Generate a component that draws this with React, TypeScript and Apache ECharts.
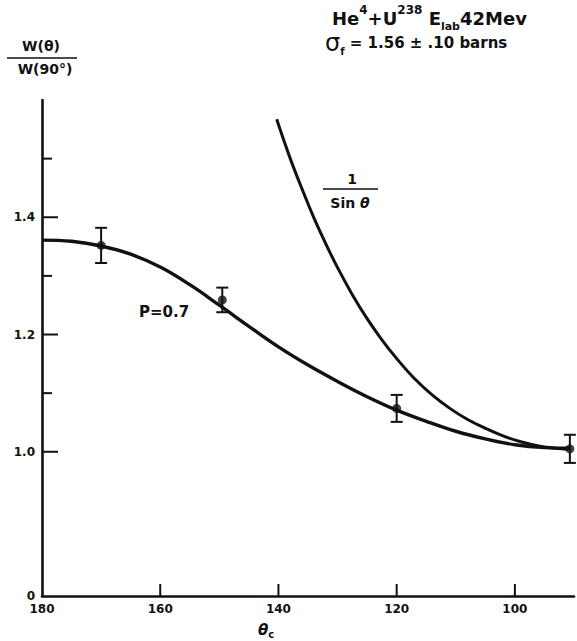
import React, { useEffect, useRef } from "react";
import * as echarts from "echarts";

// Angle axis (centre-of-mass angle, degrees), drawn reversed from 180 to 90
const angleMin = 90;
const angleMax = 180;
const angleTickValues = [160, 140, 120, 100];
const angleLabelValues = [180, 160, 140, 120, 100];

// Ratio axis W(θ)/W(90°): broken below 1.0, the bottom of the axis reads "0"
const ratioBreak = 0.754;
const ratioMax = 1.6;
const ratioMajorTicks = [1.0, 1.2, 1.4];
const ratioMinorTicks = [1.1, 1.3, 1.5];

// Measured angular distribution with error bars
const measuredAngles = [170, 149.5, 120, 90.7];
const measuredRatios = [1.352, 1.259, 1.074, 1.005];
const measuredErrors = [0.03, 0.021, 0.023, 0.024];

// Fitted curve, P = 0.7
const fitAngles = [180, 175, 170, 165, 160, 155, 150, 145, 140, 135, 130, 125, 120, 115, 110, 105, 100, 95, 90.7];
const fitRatios = [1.361, 1.359, 1.351, 1.337, 1.315, 1.285, 1.25, 1.214, 1.179, 1.148, 1.12, 1.094, 1.071, 1.052, 1.035, 1.022, 1.012, 1.007, 1.006];

// 1 / sin θ reference curve
const invSinAngles = [140.3, 138, 136, 134, 132, 130, 127.5, 125, 122.5, 120, 117, 114, 111, 108, 105, 102, 99, 96, 93, 91];
const invSinRatios = [1.567, 1.5, 1.448, 1.399, 1.355, 1.314, 1.268, 1.227, 1.191, 1.159, 1.125, 1.097, 1.074, 1.055, 1.04, 1.027, 1.017, 1.01, 1.006, 1.004];

const FONT = "DejaVu Sans";
const INK = "#111";

const near = (a: number, b: number) => Math.abs(a - b) < 1e-6;

export default function App() {
  const ref = useRef<HTMLDivElement>(null);

  useEffect(() => {
    document.body.style.margin = "0";
    const chart = echarts.init(ref.current!, null, { renderer: "svg" });

    // tick marks: [x, y, length, kind] kind 0 = ratio axis, 1 = angle axis
    const tickData: number[][] = [];
    ratioMajorTicks.forEach((v) => tickData.push([angleMax, v, 16, 0]));
    ratioMinorTicks.forEach((v) => tickData.push([angleMax, v, 10, 0]));
    angleTickValues.forEach((v) => tickData.push([v, ratioBreak, 12, 1]));

    const errorData = measuredAngles.map((a, i) => [
      a,
      measuredRatios[i],
      measuredRatios[i] - measuredErrors[i],
      measuredRatios[i] + measuredErrors[i],
    ]);

    const labelStyle = { color: INK, fontFamily: FONT, fontSize: 12, fontWeight: "bold" as const };

    chart.setOption({
      animation: false,
      backgroundColor: "#fff",
      grid: { left: 42, right: 1, top: 100, bottom: 45 },
      xAxis: {
        type: "value",
        min: angleMin,
        max: angleMax,
        interval: 10,
        inverse: true,
        axisLine: { lineStyle: { color: INK, width: 2.6 } },
        axisTick: { show: false },
        splitLine: { show: false },
        axisLabel: {
          ...labelStyle,
          margin: 7,
          formatter: (v: number) =>
            angleLabelValues.some((t) => near(t, v)) ? String(Math.round(v)) : "",
        },
      },
      yAxis: {
        type: "value",
        min: ratioBreak,
        max: ratioMax,
        interval: 0.002,
        axisLine: { lineStyle: { color: INK, width: 2.6 } },
        axisTick: { show: false },
        splitLine: { show: false },
        axisLabel: {
          ...labelStyle,
          margin: 7,
          formatter: (v: number) => {
            if (near(v, ratioBreak)) return "0";
            return ratioMajorTicks.some((t) => near(t, v)) ? v.toFixed(1) : "";
          },
        },
      },
      series: [
        {
          type: "custom",
          silent: true,
          data: tickData,
          renderItem: (_p: any, api: any) => {
            const p = api.coord([api.value(0), api.value(1)]);
            const len = api.value(2);
            const kind = api.value(3);
            const shape =
              kind === 0
                ? { x1: p[0], y1: p[1], x2: p[0] + len, y2: p[1] }
                : { x1: p[0], y1: p[1], x2: p[0], y2: p[1] - len };
            return { type: "line", shape, style: { stroke: INK, lineWidth: 2 } };
          },
        },
        {
          type: "line",
          data: fitAngles.map((a, i) => [a, fitRatios[i]]),
          smooth: 0.4,
          showSymbol: false,
          lineStyle: { color: INK, width: 3.4 },
        },
        {
          type: "line",
          data: invSinAngles.map((a, i) => [a, invSinRatios[i]]),
          smooth: 0.4,
          showSymbol: false,
          lineStyle: { color: INK, width: 3 },
        },
        {
          type: "custom",
          data: errorData,
          renderItem: (_p: any, api: any) => {
            const lo = api.coord([api.value(0), api.value(2)]);
            const hi = api.coord([api.value(0), api.value(3)]);
            const cap = 6;
            const st = { stroke: INK, lineWidth: 2 };
            return {
              type: "group",
              children: [
                { type: "line", shape: { x1: lo[0], y1: lo[1], x2: hi[0], y2: hi[1] }, style: st },
                { type: "line", shape: { x1: lo[0] - cap, y1: lo[1], x2: lo[0] + cap, y2: lo[1] }, style: st },
                { type: "line", shape: { x1: hi[0] - cap, y1: hi[1], x2: hi[0] + cap, y2: hi[1] }, style: st },
              ],
            };
          },
        },
        {
          type: "scatter",
          data: measuredAngles.map((a, i) => [a, measuredRatios[i]]),
          symbol: "circle",
          symbolSize: 9,
          itemStyle: { color: INK },
        },
      ],
      graphic: [
        // figure heading
        {
          type: "text",
          x: 332,
          y: 4,
          style: {
            text: "{m|He}{sup|4}{m|+U}{sup|238}{m| E}{sub|lab}{m|42Mev}",
            fill: INK,
            rich: {
              m: { fontFamily: FONT, fontWeight: "bold", fontSize: 18, lineHeight: 28, fill: INK },
              sup: { fontFamily: FONT, fontWeight: "bold", fontSize: 12, lineHeight: 14, verticalAlign: "top", fill: INK },
              sub: { fontFamily: FONT, fontWeight: "bold", fontSize: 11, lineHeight: 11, verticalAlign: "bottom", fill: INK },
            },
          },
        },
        {
          type: "text",
          x: 325,
          y: 30,
          style: {
            text: "{s|σ}{sub|f}{m| = 1.56 ± .10 barns}",
            fill: INK,
            rich: {
              s: { fontFamily: FONT, fontSize: 24, lineHeight: 26, fill: INK },
              m: { fontFamily: FONT, fontWeight: "bold", fontSize: 15, lineHeight: 26, fill: INK },
              sub: { fontFamily: FONT, fontWeight: "bold", fontSize: 10, lineHeight: 10, verticalAlign: "bottom", fill: INK },
            },
          },
        },
        // ratio axis title
        {
          type: "text",
          x: 41,
          y: 46,
          style: { text: "W(θ)", fontFamily: FONT, fontWeight: "bold", fontSize: 14, fill: INK, align: "center", verticalAlign: "middle" },
        },
        { type: "line", shape: { x1: 7, y1: 58, x2: 77, y2: 58 }, style: { stroke: INK, lineWidth: 1.6 } },
        {
          type: "text",
          x: 45,
          y: 69,
          style: { text: "W(90°)", fontFamily: FONT, fontWeight: "bold", fontSize: 14, fill: INK, align: "center", verticalAlign: "middle" },
        },
        // angle axis title
        {
          type: "text",
          x: 266,
          y: 630,
          style: {
            text: "{i|θ}{sub|c}",
            align: "center",
            verticalAlign: "middle",
            rich: {
              i: { fontFamily: FONT, fontWeight: "bold", fontSize: 15, fontStyle: "italic", lineHeight: 18, fill: INK },
              sub: { fontFamily: FONT, fontWeight: "bold", fontSize: 10, lineHeight: 10, verticalAlign: "bottom", fill: INK },
            },
          },
        },
        // curve annotations
        {
          type: "text",
          x: 139,
          y: 312,
          style: { text: "P=0.7", fontFamily: FONT, fontWeight: "bold", fontSize: 15, fill: INK, verticalAlign: "middle" },
        },
        {
          type: "text",
          x: 352,
          y: 179,
          style: { text: "1", fontFamily: FONT, fontWeight: "bold", fontSize: 14, fill: INK, align: "center", verticalAlign: "middle" },
        },
        { type: "line", shape: { x1: 323, y1: 189, x2: 378, y2: 189 }, style: { stroke: INK, lineWidth: 1.6 } },
        {
          type: "text",
          x: 350,
          y: 203,
          style: {
            text: "{m|Sin }{i|θ}",
            align: "center",
            verticalAlign: "middle",
            rich: {
              m: { fontFamily: FONT, fontWeight: "bold", fontSize: 14, fill: INK },
              i: { fontFamily: FONT, fontWeight: "bold", fontSize: 14, fontStyle: "italic", fill: INK },
            },
          },
        },
      ],
    });

    return () => chart.dispose();
  }, []);

  return <div ref={ref} style={{ width: 577, height: 641 }} />;
}
